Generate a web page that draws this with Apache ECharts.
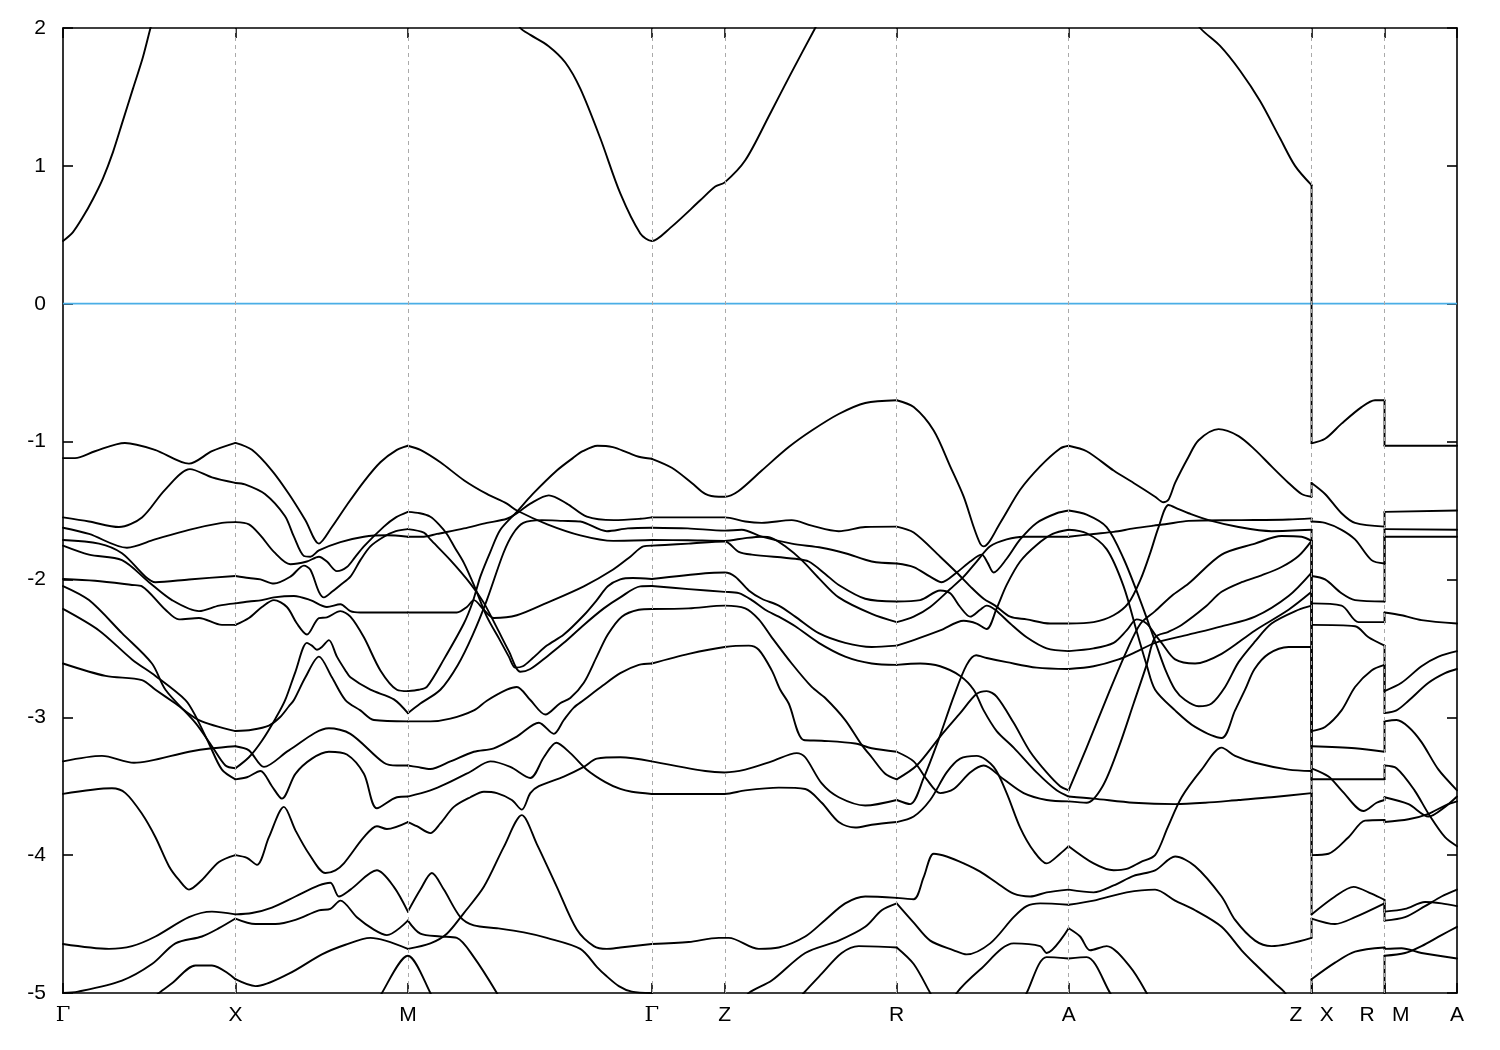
<!DOCTYPE html>
<html><head><meta charset="utf-8">
<script src="https://cdn.jsdelivr.net/npm/echarts/dist/echarts.min.js"></script>
<style>html,body{margin:0;padding:0;background:#fff}#c{width:1500px;height:1050px}</style>
</head><body><div id="c"></div>
<script>
// k-path positions (arbitrary path-length units) and labels
const kTicks = [0, 172.5, 345, 589, 662, 834, 1006, 1249, 1322, 1394.5];
const kLabels = ['Γ', 'X', 'M', 'Γ', 'Z', 'R', 'A', 'Z   X', 'R   M', 'A'];
const yTicks = [-5, -4, -3, -2, -1, 0, 1, 2];
const fermiLevel = 0;

// conduction band pieces [k, E]
const condGX = [[0,0.455],[10,0.52],[20,0.63],[30,0.76],[40,0.91],[50,1.10],[60,1.33],[70,1.56],[80,1.79],[87.5,2.0],[95,2.2]];
const condMGZ = [[450,2.1],[457.5,2.0],[467.5,1.95],[485.5,1.87],[502.5,1.75],[517.5,1.56],[537.5,1.20],[557.5,0.80],[577.5,0.51],[589,0.455],[607.5,0.55],[637.5,0.75],[652.5,0.85],[662,0.88],[682.5,1.04],[707.5,1.38],[727.5,1.66],[752.5,2.0],[760,2.1]];
const condAZ = [[1130,2.1],[1137.5,2.0],[1157.5,1.87],[1177.5,1.69],[1197.5,1.47],[1217.5,1.20],[1232.5,1.00],[1249,0.86]];

// valence bands, Gamma -> X
const bandsGX = [
 [[0,-1.12],[12,-1.12],[32,-1.07],[62,-1.01],[92,-1.06],[126,-1.16],[149,-1.07],[172.5,-1.01]],
 [[0,-1.55],[26,-1.58],[56,-1.62],[79,-1.55],[102,-1.35],[127,-1.20],[149,-1.26],[172.5,-1.30]],
 [[0,-1.625],[26,-1.67],[64,-1.77],[92,-1.71],[126,-1.64],[159,-1.59],[172.5,-1.584]],
 [[0,-1.714],[36,-1.74],[59,-1.81],[82.5,-1.98],[92.5,-2.02],[126,-2.00],[172.5,-1.975]],
 [[0,-1.755],[26,-1.82],[59,-1.86],[86,-2.02],[109,-2.15],[136,-2.23],[156,-2.19],[172.5,-2.174]],
 [[0,-1.997],[32,-2.01],[69,-2.04],[79,-2.05],[102.5,-2.22],[116,-2.29],[136,-2.28],[159,-2.33],[172.5,-2.33]],
 [[0,-2.048],[26,-2.15],[59,-2.39],[89,-2.61],[102.5,-2.80],[132.5,-3.04],[149,-3.21],[162.5,-3.35],[172.5,-3.37]],
 [[0,-2.214],[36,-2.37],[69,-2.58],[92.5,-2.70],[122.5,-2.875],[132.5,-2.99],[146,-3.19],[159,-3.38],[172.5,-3.45]],
 [[0,-2.61],[42.5,-2.70],[79,-2.73],[92.5,-2.80],[112.5,-2.90],[136,-3.02],[172.5,-3.10]],
 [[0,-3.32],[39,-3.28],[71,-3.33],[126,-3.25],[149,-3.225],[172.5,-3.21]],
 [[0,-3.556],[49,-3.515],[62.5,-3.55],[79,-3.70],[92.5,-3.87],[106,-4.08],[116,-4.18],[126,-4.25],[139,-4.18],[156,-4.05],[172.5,-4.00]],
 [[0,-4.645],[46,-4.68],[69,-4.66],[92.5,-4.59],[126,-4.45],[149,-4.41],[172.5,-4.43]],
 [[0,-5.0],[15,-4.99],[59,-4.91],[89,-4.79],[112.5,-4.64],[139,-4.59],[156,-4.53],[172.5,-4.46]],
 [[80,-5.1],[96,-5.0],[109,-4.93],[132.5,-4.80],[149,-4.80],[172.5,-4.90]]
];

// X -> M
const bandsXM = [
 [[172.5,-1.01],[189,-1.06],[209,-1.21],[226,-1.38],[242.5,-1.57],[256,-1.74],[269,-1.62],[284,-1.46],[301,-1.29],[317.5,-1.15],[334,-1.06],[345,-1.03]],
 [[172.5,-1.30],[182,-1.31],[202,-1.38],[222,-1.54],[231,-1.69],[241,-1.83],[247.5,-1.835],[256,-1.79],[277.5,-1.73],[301,-1.69],[324,-1.68],[345,-1.69]],
 [[172.5,-1.584],[186,-1.60],[197.5,-1.68],[211,-1.80],[227.5,-1.89],[244,-1.87],[256,-1.835],[264,-1.87],[274,-1.94],[284,-1.91],[292,-1.84],[301,-1.76],[321,-1.617],[333,-1.55],[345,-1.51]],
 [[172.5,-1.975],[186,-1.99],[197.5,-2.00],[211,-2.03],[227.5,-1.98],[241,-1.90],[247.5,-1.93],[256,-2.09],[261,-2.13],[269,-2.09],[277.5,-2.04],[287.5,-1.98],[297.5,-1.86],[307.5,-1.76],[321,-1.69],[333,-1.65],[345,-1.635]],
 [[172.5,-2.174],[186,-2.16],[199,-2.15],[211,-2.13],[231,-2.12],[247.5,-2.15],[264,-2.20],[277.5,-2.18],[287.5,-2.23],[297.5,-2.24],[345,-2.24]],
 [[172.5,-2.33],[186,-2.28],[199,-2.20],[211,-2.15],[224,-2.20],[234,-2.32],[244,-2.40],[256,-2.28],[264,-2.275],[277.5,-2.23],[287.5,-2.27],[301,-2.42],[317.5,-2.66],[334,-2.80],[345,-2.81]],
 [[172.5,-3.10],[189,-3.09],[206,-3.06],[217,-3.00],[226,-2.92],[231,-2.875],[242.5,-2.71],[256,-2.56],[269,-2.71],[282.5,-2.875],[297.5,-2.95],[311,-3.02],[345,-3.03]],
 [[172.5,-3.37],[186,-3.29],[199,-3.17],[212.5,-3.01],[222,-2.88],[232.5,-2.67],[244,-2.46],[249,-2.48],[254,-2.51],[259,-2.49],[266,-2.44],[274,-2.56],[282.5,-2.66],[287.5,-2.71],[307.5,-2.80],[331,-2.87],[345,-2.97]],
 [[172.5,-3.45],[184,-3.435],[197.5,-3.39],[209,-3.50],[219,-3.59],[232.5,-3.41],[249,-3.30],[266,-3.25],[284,-3.27],[301,-3.41],[314,-3.66],[334,-3.58],[345,-3.575]],
 [[172.5,-3.21],[186,-3.24],[201,-3.36],[226,-3.24],[266,-3.08],[287.5,-3.12],[321,-3.33],[334,-3.35],[345,-3.35]],
 [[172.5,-4.00],[184,-4.02],[194,-4.07],[206,-3.87],[221,-3.65],[232.5,-3.82],[246,-3.99],[262.5,-4.13],[272.5,-4.11],[281,-4.06],[301,-3.87],[314,-3.79],[324,-3.81],[345,-3.76]],
 [[172.5,-4.43],[189,-4.42],[209,-4.38],[232.5,-4.30],[256,-4.22],[267.5,-4.20],[276,-4.30],[287.5,-4.25],[314,-4.11],[331,-4.23],[345,-4.41]],
 [[172.5,-4.46],[192.5,-4.50],[212.5,-4.50],[232.5,-4.47],[256,-4.40],[267.5,-4.39],[277.5,-4.33],[294,-4.45],[311,-4.54],[324,-4.58],[345,-4.475]],
 [[172.5,-4.90],[192.5,-4.95],[226,-4.86],[259,-4.72],[282.5,-4.65],[307.5,-4.60],[345,-4.68]],
 [[310,-5.15],[319,-5.0],[345,-4.73],[367.5,-5.0],[375,-5.15]]
];

// M -> Gamma
const bandsMG = [
 [[345,-1.03],[357.5,-1.06],[377.5,-1.15],[401,-1.28],[424,-1.38],[444,-1.45],[454,-1.50],[484.5,-1.60],[517.5,-1.68],[550.5,-1.72],[589,-1.714]],
 [[345,-1.69],[361,-1.69],[374,-1.67],[401,-1.63],[424,-1.59],[444,-1.56],[456,-1.51],[467.5,-1.45],[486,-1.39],[504,-1.45],[524,-1.545],[551,-1.57],[577.5,-1.56],[589,-1.55]],
 [[345,-1.51],[357,-1.52],[367.5,-1.545],[376,-1.60],[384,-1.67],[392,-1.77],[401,-1.88],[411,-2.04],[424,-2.27],[437,-2.44],[446,-2.56],[452.5,-2.64],[460,-2.63],[470,-2.57],[484,-2.48],[501,-2.40],[521,-2.26],[534,-2.15],[545,-2.05],[557.5,-2.00],[570,-1.99],[589,-1.997]],
 [[345,-1.635],[361,-1.66],[367.5,-1.71],[387.5,-1.86],[407.5,-2.03],[421,-2.17],[434,-2.35],[446,-2.52],[457.5,-2.67],[467.5,-2.65],[484,-2.56],[501,-2.46],[521,-2.33],[541,-2.21],[557.5,-2.13],[577.5,-2.05],[589,-2.048]],
 [[345,-2.24],[394,-2.24],[404,-2.20],[411,-2.15],[421,-2.22],[431,-2.28],[454,-2.26],[484,-2.17],[521,-2.05],[550,-1.93],[567.5,-1.835],[580.5,-1.76],[589,-1.755]],
 [[345,-2.81],[356,-2.80],[364,-2.78],[381,-2.58],[401,-2.32],[410,-2.16],[417.5,-1.98],[427.5,-1.80],[437.5,-1.64],[454,-1.51],[470,-1.38],[494,-1.21],[510,-1.12],[520,-1.07],[534.5,-1.03],[550,-1.04],[565,-1.08],[576,-1.11],[589,-1.125]],
 [[345,-3.03],[367.5,-3.03],[387.5,-3.01],[411,-2.95],[424,-2.88],[444,-2.80],[454,-2.78],[467.5,-2.875],[482.5,-2.98],[497,-2.90],[507.5,-2.86],[521,-2.75],[534,-2.56],[545,-2.40],[559,-2.27],[576,-2.22],[589,-2.214]],
 [[345,-2.97],[357.5,-2.90],[377.5,-2.80],[395,-2.62],[410,-2.40],[424,-2.15],[440.5,-1.81],[450,-1.67],[460.5,-1.59],[479,-1.57],[500,-1.575],[517.5,-1.58],[544,-1.65],[565,-1.63],[589,-1.625]],
 [[345,-3.575],[367.5,-3.53],[384,-3.48],[407.5,-3.395],[427.5,-3.32],[447.5,-3.36],[467.5,-3.44],[481,-3.29],[493.5,-3.185],[507.5,-3.26],[524,-3.38],[542.5,-3.47],[557.5,-3.52],[569,-3.54],[589,-3.556]],
 [[345,-3.35],[354,-3.36],[367.5,-3.375],[387.5,-3.32],[411,-3.25],[431,-3.225],[454,-3.14],[476,-3.04],[491,-3.12],[501,-3.02],[511,-2.93],[521,-2.875],[540,-2.77],[557.5,-2.68],[576,-2.62],[589,-2.61]],
 [[345,-3.76],[354,-3.79],[367.5,-3.84],[377.5,-3.77],[391,-3.65],[407.5,-3.58],[421,-3.54],[434,-3.55],[449,-3.60],[459,-3.67],[467.5,-3.55],[476,-3.50],[501,-3.43],[521,-3.36],[534,-3.30],[557.5,-3.29],[589,-3.32]],
 [[345,-4.41],[357.5,-4.25],[369,-4.13],[381,-4.25],[397.5,-4.45],[411,-4.51],[434,-4.53],[461,-4.56],[484,-4.60],[517.5,-4.68],[534,-4.81],[542.5,-4.87],[556,-4.95],[569,-4.99],[589,-5.0]],
 [[345,-4.475],[357.5,-4.57],[377.5,-4.59],[394,-4.60],[411,-4.74],[434,-5.0],[445,-5.15]],
 [[345,-4.68],[367.5,-4.64],[384,-4.57],[401,-4.42],[421,-4.23],[441,-3.94],[459,-3.71],[474,-3.92],[494,-4.23],[514,-4.54],[531,-4.66],[544,-4.68],[557.5,-4.67],[589,-4.645]]
];

// Gamma -> Z -> R
const bandsGR = [
 [[589,-1.125],[609,-1.19],[629,-1.30],[642.5,-1.38],[656,-1.40],[662,-1.40],[675.5,-1.36],[699,-1.21],[726,-1.04],[749,-0.92],[776,-0.80],[802.5,-0.72],[834,-0.70]],
 [[589,-1.55],[625,-1.55],[662,-1.55],[682.5,-1.58],[699,-1.59],[729,-1.57],[749,-1.61],[776,-1.65],[802.5,-1.62],[834,-1.617]],
 [[589,-1.625],[625,-1.63],[662,-1.646],[679,-1.64],[699,-1.69],[729,-1.74],[759,-1.77],[782.5,-1.81],[809,-1.87],[834,-1.884]],
 [[589,-1.714],[625,-1.716],[662,-1.72],[682.5,-1.70],[699,-1.69],[709,-1.70],[722.5,-1.76],[739,-1.86],[756,-1.99],[776,-2.13],[809,-2.25],[834,-2.31]],
 [[589,-1.755],[602,-1.75],[626,-1.74],[662,-1.725],[676,-1.80],[689,-1.82],[732.5,-1.85],[746,-1.87],[762.5,-1.96],[776,-2.04],[802.5,-2.14],[834,-2.16]],
 [[589,-1.997],[642.5,-1.955],[662,-1.95],[672.5,-1.98],[686,-2.08],[699,-2.14],[716,-2.19],[732.5,-2.27],[756,-2.39],[782.5,-2.46],[809,-2.49],[834,-2.48]],
 [[589,-2.048],[626,-2.07],[662,-2.09],[676,-2.10],[689,-2.15],[702.5,-2.22],[716,-2.27],[732.5,-2.34],[756,-2.46],[782.5,-2.56],[809,-2.61],[834,-2.62]],
 [[589,-2.214],[626,-2.21],[662,-2.19],[682.5,-2.21],[696,-2.29],[709,-2.42],[729,-2.61],[749,-2.78],[762.5,-2.86],[782.5,-3.02],[799,-3.20],[809,-3.29],[822.5,-3.41],[834,-3.45]],
 [[589,-2.61],[626,-2.54],[662,-2.49],[686,-2.48],[696,-2.51],[709,-2.66],[717.5,-2.80],[726,-2.90],[741,-3.165],[759,-3.17],[792.5,-3.19],[809,-3.225],[834,-3.25]],
 [[589,-3.32],[642.5,-3.39],[662,-3.40],[682.5,-3.38],[709,-3.32],[734,-3.26],[742.5,-3.29],[759,-3.48],[776,-3.58],[802.5,-3.64],[834,-3.60]],
 [[589,-3.556],[662,-3.556],[682.5,-3.53],[716,-3.51],[742.5,-3.52],[759,-3.62],[776,-3.76],[792.5,-3.80],[809,-3.78],[834,-3.76]],
 [[589,-4.645],[626,-4.63],[656,-4.60],[666,-4.60],[696,-4.68],[716,-4.67],[742.5,-4.59],[762.5,-4.47],[782.5,-4.35],[802.5,-4.30],[834,-4.31]],
 [[589,-5.0],[600,-5.1],[675,-5.1],[686,-5.0],[709,-4.91],[742.5,-4.71],[776,-4.62],[802.5,-4.52],[819,-4.40],[834,-4.35]],
 [[730,-5.1],[741,-5.0],[759,-4.86],[779,-4.71],[796,-4.66],[834,-4.67]]
];

// R -> A
const bandsRA = [
 [[834,-0.70],[851,-0.75],[871,-0.92],[887.5,-1.18],[901,-1.40],[911,-1.62],[917.5,-1.74],[921,-1.76],[937.5,-1.59],[957.5,-1.35],[977.5,-1.18],[997.5,-1.05],[1006,-1.03]],
 [[834,-1.617],[851,-1.66],[877.5,-1.835],[894,-1.95],[907.5,-2.05],[921,-2.14],[932.5,-2.19],[947.5,-2.27],[964,-2.29],[987.5,-2.32],[1006,-2.32]],
 [[834,-1.884],[851,-1.91],[867.5,-1.98],[879,-2.02],[894,-1.95],[907.5,-1.87],[919,-1.82],[925,-1.88],[931,-1.95],[944,-1.85],[957.5,-1.71],[974,-1.59],[994,-1.52],[1006,-1.50]],
 [[834,-2.16],[857.5,-2.15],[877.5,-2.08],[887.5,-2.10],[897.5,-2.20],[907.5,-2.27],[917.5,-2.22],[924,-2.19],[932.5,-2.22],[947.5,-2.32],[964,-2.42],[984,-2.50],[1006,-2.52]],
 [[834,-2.31],[851,-2.27],[867.5,-2.20],[887.5,-2.07],[901,-1.98],[914,-1.87],[927.5,-1.76],[944,-1.71],[961,-1.69],[1006,-1.69]],
 [[834,-2.48],[851,-2.44],[877.5,-2.37],[901,-2.30],[914,-2.32],[924,-2.36],[934,-2.21],[944,-2.04],[957.5,-1.87],[974,-1.75],[990,-1.67],[1006,-1.64]],
 [[834,-2.62],[857.5,-2.61],[877.5,-2.63],[897.5,-2.70],[911,-2.80],[921,-2.95],[934,-3.10],[951,-3.22],[974,-3.40],[994,-3.53],[1006,-3.575]],
 [[834,-3.25],[851,-3.32],[864,-3.45],[877.5,-3.55],[891,-3.52],[907.5,-3.40],[921,-3.35],[941,-3.45],[961,-3.55],[984,-3.60],[1006,-3.61]],
 [[834,-3.45],[854,-3.35],[877.5,-3.14],[897.5,-2.97],[914,-2.83],[924,-2.81],[934,-2.85],[951,-3.04],[967.5,-3.25],[984,-3.40],[997.5,-3.50],[1006,-3.53]],
 [[834,-3.60],[847.5,-3.63],[861,-3.44],[876,-3.16],[891,-2.85],[904,-2.62],[913.5,-2.55],[924,-2.57],[944,-2.60],[974,-2.64],[1006,-2.65]],
 [[834,-3.76],[851,-3.72],[867.5,-3.60],[884,-3.40],[897.5,-3.30],[914,-3.28],[931,-3.36],[944,-3.55],[957.5,-3.80],[971,-3.97],[984,-4.06],[997.5,-3.99],[1006,-3.935]],
 [[834,-4.31],[851,-4.32],[861,-4.16],[871,-3.99],[884,-4.01],[901,-4.06],[917.5,-4.12],[934,-4.20],[951,-4.28],[967.5,-4.30],[984,-4.27],[1006,-4.25]],
 [[834,-4.35],[851,-4.49],[867.5,-4.62],[891,-4.69],[904,-4.72],[927.5,-4.64],[951,-4.45],[964,-4.37],[977.5,-4.35],[1006,-4.36]],
 [[834,-4.67],[851,-4.79],[867.5,-5.0],[875,-5.1]],
 [[890,-5.1],[894,-5.0],[917.5,-4.83],[951,-4.64],[977.5,-4.66],[984,-4.71],[1006,-4.53]],
 [[958,-5.1],[964,-5.0],[984,-4.74],[1006,-4.75]]
];

// A -> Z
const bandsAZ = [
 [[1006,-1.03],[1024,-1.07],[1051,-1.21],[1071,-1.30],[1092.5,-1.40],[1100.8,-1.44],[1106,-1.42],[1112.5,-1.30],[1126,-1.11],[1136,-0.99],[1156,-0.91],[1176,-0.96],[1192.5,-1.06],[1209,-1.18],[1226,-1.30],[1239,-1.38],[1249,-1.40]],
 [[1006,-1.50],[1024,-1.53],[1044,-1.62],[1061,-1.85],[1077.5,-2.15],[1092.5,-2.45],[1102.5,-2.65],[1112.5,-2.80],[1122.5,-2.875],[1136,-2.92],[1149,-2.90],[1162.5,-2.78],[1176,-2.60],[1192.5,-2.45],[1209,-2.32],[1236,-2.22],[1249,-2.19]],
 [[1006,-1.64],[1024,-1.665],[1044,-1.78],[1061,-2.05],[1075,-2.40],[1084,-2.62],[1092.5,-2.80],[1112.5,-2.95],[1132.5,-3.07],[1159,-3.15],[1172.5,-2.95],[1182.5,-2.80],[1192,-2.65],[1206,-2.54],[1226,-2.49],[1249,-2.49]],
 [[1006,-1.69],[1031,-1.67],[1051,-1.655],[1071,-1.63],[1091,-1.61],[1102.5,-1.60],[1126,-1.575],[1176,-1.57],[1226,-1.565],[1249,-1.557]],
 [[1006,-2.32],[1031,-2.31],[1051,-2.26],[1066,-2.17],[1078,-2.00],[1088,-1.80],[1096,-1.62],[1106,-1.46],[1116,-1.49],[1126,-1.52],[1146,-1.57],[1176,-1.62],[1209,-1.65],[1249,-1.64]],
 [[1006,-2.52],[1031,-2.50],[1051,-2.46],[1064,-2.37],[1074,-2.29],[1084,-2.32],[1092.5,-2.40],[1099,-2.46],[1112.5,-2.58],[1132.5,-2.61],[1159,-2.54],[1192.5,-2.37],[1226,-2.22],[1249,-2.09]],
 [[1006,-2.65],[1031,-2.63],[1056,-2.58],[1075,-2.52],[1092.5,-2.46],[1126,-2.40],[1159,-2.34],[1192.5,-2.27],[1226,-2.12],[1249,-1.95]],
 [[1006,-3.53],[1024,-3.22],[1047.5,-2.80],[1064,-2.52],[1078,-2.32],[1092.5,-2.23],[1109,-2.12],[1126,-2.03],[1159,-1.82],[1192.5,-1.74],[1219,-1.685],[1239,-1.69],[1249,-1.72]],
 [[1006,-3.575],[1031,-3.59],[1071,-3.62],[1112.5,-3.63],[1142.5,-3.62],[1176,-3.60],[1209,-3.58],[1249,-3.55]],
 [[1006,-3.61],[1024,-3.62],[1040,-3.50],[1056,-3.22],[1071,-2.90],[1084,-2.62],[1092.5,-2.42],[1105.8,-2.38],[1119,-2.33],[1142.5,-2.20],[1159,-2.09],[1179,-2.02],[1199,-1.97],[1219,-1.91],[1236,-1.83],[1249,-1.72]],
 [[1006,-3.935],[1031,-4.06],[1051,-4.11],[1064,-4.10],[1078,-4.05],[1092.5,-4.00],[1105,-3.80],[1119,-3.58],[1139,-3.38],[1159,-3.22],[1172.5,-3.28],[1192.5,-3.33],[1226,-3.38],[1249,-3.39]],
 [[1006,-4.25],[1031,-4.27],[1051,-4.22],[1071,-4.15],[1092.5,-4.11],[1112.5,-4.01],[1132.5,-4.08],[1159,-4.30],[1172.5,-4.47],[1192.5,-4.62],[1209,-4.66],[1249,-4.60]],
 [[1006,-4.36],[1031,-4.33],[1064,-4.27],[1092.5,-4.25],[1112.5,-4.33],[1132.5,-4.40],[1159,-4.52],[1179,-4.69],[1192.5,-4.79],[1212.5,-4.93],[1222.5,-5.0],[1230,-5.1]],
 [[1006,-4.53],[1017.5,-4.59],[1027.5,-4.69],[1044,-4.66],[1067.5,-4.81],[1084,-5.0],[1090,-5.1]],
 [[1006,-4.75],[1024,-4.74],[1047.5,-5.0],[1055,-5.1]]
];

// Z|X -> R (first point: Z side, second: X side)
const bandsZXR = [
 [[1249,0.86],[1249,-1.013],[1262.5,-0.98],[1279,-0.87],[1299,-0.75],[1312.5,-0.70],[1322,-0.70]],
 [[1249,-1.40],[1249,-1.30],[1262.5,-1.38],[1279,-1.52],[1292.5,-1.59],[1322,-1.617]],
 [[1249,-1.557],[1249,-1.58],[1262.5,-1.59],[1279,-1.64],[1292.5,-1.71],[1309,-1.86],[1322,-1.884]],
 [[1249,-1.64],[1249,-1.975],[1262.5,-2.00],[1279,-2.10],[1292.5,-2.15],[1322,-2.16]],
 [[1249,-1.72],[1249,-2.174],[1279,-2.19],[1296,-2.31],[1322,-2.31]],
 [[1249,-1.72],[1249,-2.33],[1292.5,-2.34],[1306,-2.42],[1322,-2.48]],
 [[1249,-1.95],[1249,-3.10],[1262.5,-3.07],[1279,-2.95],[1292.5,-2.78],[1309,-2.66],[1322,-2.62]],
 [[1249,-2.09],[1249,-3.21],[1292.5,-3.225],[1322,-3.25]],
 [[1249,-2.19],[1249,-3.37],[1266,-3.43],[1279,-3.53],[1301,-3.68],[1314,-3.62],[1322,-3.60]],
 [[1249,-2.49],[1249,-3.45],[1322,-3.45]],
 [[1249,-3.39],[1249,-4.00],[1266,-3.99],[1286,-3.87],[1302.5,-3.75],[1322,-3.745]],
 [[1249,-3.55],[1249,-4.43],[1272.5,-4.30],[1291,-4.23],[1309,-4.28],[1322,-4.325]],
 [[1249,-4.60],[1249,-4.46],[1272.5,-4.50],[1292.5,-4.45],[1322,-4.35]],
 [[1249,-5.3],[1249,-4.90],[1272.5,-4.78],[1292.5,-4.70],[1322,-4.67]]
];

// R|M -> A (first point: R side, second: M side)
const bandsRMA = [
 [[1322,-0.70],[1322,-1.03],[1394.5,-1.03]],
 [[1322,-1.617],[1322,-1.51],[1394.5,-1.50]],
 [[1322,-1.884],[1322,-1.635],[1394.5,-1.64]],
 [[1322,-2.16],[1322,-1.69],[1394.5,-1.69]],
 [[1322,-2.31],[1322,-2.24],[1339,-2.26],[1359,-2.295],[1394.5,-2.32]],
 [[1322,-2.48],[1322,-2.81],[1339,-2.75],[1359,-2.63],[1376,-2.56],[1394.5,-2.52]],
 [[1322,-2.62],[1322,-2.97],[1334,-2.95],[1346,-2.88],[1366,-2.75],[1382.5,-2.68],[1394.5,-2.65]],
 [[1322,-3.25],[1322,-3.03],[1334,-3.02],[1346,-3.07],[1359,-3.18],[1376,-3.38],[1394.5,-3.53]],
 [[1322,-3.45],[1322,-3.35],[1334,-3.37],[1352,-3.53],[1366,-3.70],[1382.5,-3.87],[1394.5,-3.935]],
 [[1322,-3.60],[1322,-3.58],[1346,-3.63],[1366,-3.72],[1382.5,-3.65],[1394.5,-3.575]],
 [[1322,-3.745],[1322,-3.76],[1346,-3.74],[1366,-3.70],[1382.5,-3.64],[1394.5,-3.61]],
 [[1322,-4.325],[1322,-4.41],[1342.5,-4.39],[1362.5,-4.34],[1379,-4.35],[1394.5,-4.37]],
 [[1322,-4.35],[1322,-4.475],[1342.5,-4.45],[1362.5,-4.37],[1379,-4.30],[1394.5,-4.25]],
 [[1322,-4.67],[1322,-4.68],[1339,-4.675],[1359,-4.71],[1394.5,-4.75]],
 [[1322,-5.3],[1322,-4.73],[1342.5,-4.71],[1359,-4.66],[1379,-4.58],[1394.5,-4.52]]
];

// ---------- build chart ----------
const kMin = kTicks[0], kMax = kTicks[kTicks.length - 1];
const labelOf = v => { const i = kTicks.indexOf(v); return i < 0 ? '' : kLabels[i]; };

function bandSeries(data, smooth) {
  return {
    type: 'line', data: data, symbol: 'none', showSymbol: false, silent: true,
    smooth: smooth ? 0.3 : false,
    lineStyle: { color: '#000', width: 1.9, join: 'round', cap: 'round' }, z: 4, clip: true
  };
}

const pieces = [].concat(bandsGX, bandsXM, bandsMG, bandsGR, bandsRA, bandsAZ, bandsZXR, bandsRMA, [condGX, condMGZ, condAZ]);
const series = [];
// Fermi level + dashed high-symmetry lines
series.push({
  type: 'line', data: [[kMin, fermiLevel], [kMax, fermiLevel]], symbol: 'none', silent: true,
  lineStyle: { color: '#4aaee6', width: 1.7 }, z: 2,
  markLine: {
    silent: true, symbol: ['none', 'none'], label: { show: false },
    lineStyle: { type: [4, 4], color: '#aaaaaa', width: 1 },
    data: kTicks.slice(1, -1).map(v => ({ xAxis: v }))
  }
});
pieces.forEach(p => {
  let pts = p;
  if (pts.length > 2 && pts[0][0] === pts[1][0]) {
    series.push(bandSeries([pts[0], pts[1]], false));
    pts = pts.slice(1);
  }
  series.push(bandSeries(pts, pts.length > 2));
});

const frame = { show: true, onZero: false, lineStyle: { color: '#000', width: 1.6 } };
const tickStyle = { color: '#000', width: 1.6 };
const chart = echarts.init(document.getElementById('c'), null, { renderer: 'canvas' });
chart.setOption({
  animation: false,
  backgroundColor: '#fff',
  grid: { left: 63, right: 43, top: 28, bottom: 57 },
  xAxis: [
    {
      type: 'value', min: kMin, max: kMax, position: 'bottom',
      axisLine: frame, splitLine: { show: false },
      axisTick: { show: true, inside: true, length: 10, customValues: kTicks, lineStyle: tickStyle },
      axisLabel: {
        customValues: kTicks, margin: 12, fontSize: 21, color: '#000', fontFamily: 'Liberation Sans',
        formatter: v => labelOf(v) === 'Γ' ? '{g|Γ}' : labelOf(v),
        rich: { g: { fontFamily: 'DejaVu Serif', fontSize: 21, color: '#000' } }
      }
    },
    {
      type: 'value', min: kMin, max: kMax, position: 'top',
      axisLine: frame, splitLine: { show: false },
      axisTick: { show: true, inside: true, length: 10, customValues: kTicks, lineStyle: tickStyle },
      axisLabel: { show: false }
    }
  ],
  yAxis: [
    {
      type: 'value', min: yTicks[0], max: yTicks[yTicks.length - 1], interval: 1, position: 'left',
      axisLine: frame, splitLine: { show: false },
      axisTick: { show: true, inside: true, length: 10, lineStyle: tickStyle },
      axisLabel: { margin: 17, fontSize: 21, color: '#000', fontFamily: 'Liberation Sans' }
    },
    {
      type: 'value', min: yTicks[0], max: yTicks[yTicks.length - 1], interval: 1, position: 'right',
      axisLine: frame, splitLine: { show: false },
      axisTick: { show: true, inside: true, length: 10, lineStyle: tickStyle },
      axisLabel: { show: false }
    }
  ],
  series: series
});
</script>
</body></html>
